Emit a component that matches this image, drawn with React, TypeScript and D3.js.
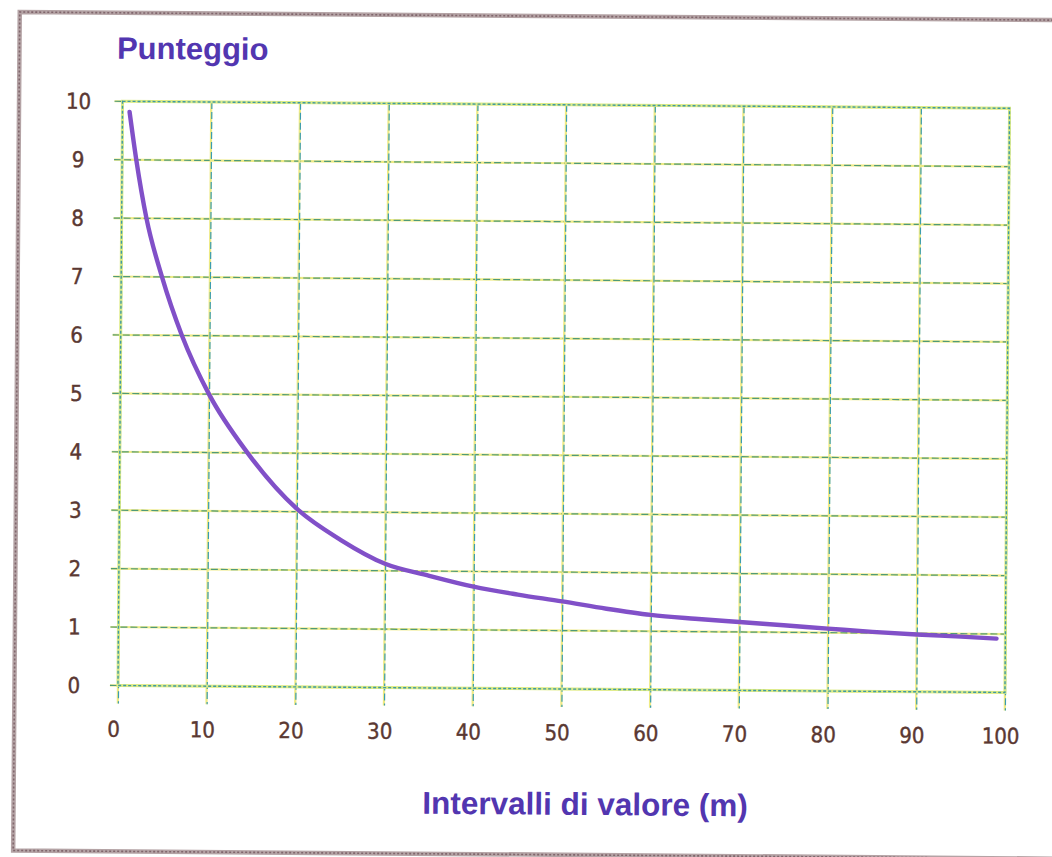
import React from "react";
import * as d3 from "d3";

// ---- data ----
const curveX = [0.8, 1.6, 2.8, 4.6, 6.9, 10, 14.4, 20, 25, 30, 35, 40, 45, 50, 55, 60, 65, 70, 75, 80, 85, 90, 95, 99];
const curveY = [9.82, 9, 8, 7, 6, 5, 4, 3.05, 2.52, 2.12, 1.92, 1.74, 1.61, 1.5, 1.38, 1.28, 1.22, 1.17, 1.12, 1.07, 1.02, 0.98, 0.95, 0.92];
const xTicks = [0, 10, 20, 30, 40, 50, 60, 70, 80, 90, 100];
const yTicks = [0, 1, 2, 3, 4, 5, 6, 7, 8, 9, 10];
const yTitle = "Punteggio";
const xTitle = "Intervalli di valore (m)";

const W = 1052;
const H = 857;

export default function App() {
  const x = d3.scaleLinear().domain([0, 100]).range([120, 1007]);
  const y = d3.scaleLinear().domain([0, 10]).range([688.7, 104.5]);

  const pts: [number, number][] = curveX.map((v, i) => [v, curveY[i]]);
  const line = d3
    .line<[number, number]>()
    .x((d) => x(d[0]))
    .y((d) => y(d[1]))
    .curve(d3.curveMonotoneX);

  const tickFont = "'Liberation Sans Narrow', 'DejaVu Sans Condensed', 'Liberation Sans', sans-serif";
  const titleFont = "'Liberation Sans', Arial, sans-serif";
  const tickColor = "#5a3832";
  const titleColor = "#5236b0";

  const frameCol = "#b4a3a5";
  const frameDash = "#80666c";

  return (
    <svg
      width={W}
      height={H}
      style={{ position: "absolute", left: 0, top: 0, background: "#ffffff" }}
    >
      <rect x={0} y={0} width={W} height={H} fill="#ffffff" />
      <g transform={`rotate(0.45, ${W / 2}, ${H / 2})`}>
        {/* outer frame */}
        <g fill="none">
          <path d={`M1070,16 L16.5,16 L16.5,854.5 L1070,854.5`} stroke={frameCol} strokeWidth={4.5} />
          <path
            d={`M1070,16 L16.5,16 L16.5,854.5 L1070,854.5`}
            stroke={frameDash}
            strokeWidth={1.6}
            strokeDasharray="2 2"
          />
        </g>

        {/* horizontal gridlines */}
        {yTicks.map((t) => (
          <g key={"h" + t}>
            <line x1={x(0) - 8} x2={x(100)} y1={y(t)} y2={y(t)} stroke="#eeea84" strokeWidth={2.2} />
            <line
              x1={x(0) - 8}
              x2={x(100)}
              y1={y(t)}
              y2={y(t)}
              stroke="#4f9a78"
              strokeWidth={1.2}
              strokeDasharray="7 3"
            />
          </g>
        ))}

        {/* vertical gridlines */}
        {xTicks.map((t) => (
          <g key={"v" + t}>
            <line x1={x(t)} x2={x(t)} y1={y(10)} y2={y(0) + 18} stroke="#eeea84" strokeWidth={2.2} />
            <line
              x1={x(t) + 0.6}
              x2={x(t) + 0.6}
              y1={y(10)}
              y2={y(0) + 18}
              stroke="#3c9cae"
              strokeWidth={1.2}
              strokeDasharray="7 3"
            />
          </g>
        ))}

        {/* plot border */}
        <rect
          x={x(0)}
          y={y(10)}
          width={x(100) - x(0)}
          height={y(0) - y(10)}
          fill="none"
          stroke="#dceb86"
          strokeWidth={3}
        />
        <rect
          x={x(0)}
          y={y(10)}
          width={x(100) - x(0)}
          height={y(0) - y(10)}
          fill="none"
          stroke="#3f9aa2"
          strokeWidth={1.4}
          strokeDasharray="3 2"
        />

        {/* curve */}
        <path d={line(pts) || ""} fill="none" stroke="#8150c8" strokeWidth={4.4} strokeLinecap="round" />

        {/* y tick labels */}
        {yTicks.map((t) => (
          <text
            key={"yl" + t}
            x={76}
            y={y(t)}
            dy="0.36em"
            textAnchor="middle"
            fontFamily={tickFont}
            fontSize={22}
            fill={tickColor}
            stroke={tickColor}
            strokeWidth={0.4}
          >
            {t}
          </text>
        ))}

        {/* x tick labels */}
        {xTicks.map((t) => (
          <text
            key={"xl" + t}
            x={x(t) - 4}
            y={740}
            textAnchor="middle"
            fontFamily={tickFont}
            fontSize={22}
            fill={tickColor}
            stroke={tickColor}
            strokeWidth={0.4}
          >
            {t}
          </text>
        ))}

        {/* titles */}
        <text x={114} y={62} fontFamily={titleFont} fontWeight="bold" fontSize={31} fill={titleColor}>
          {yTitle}
        </text>
        <text
          x={588}
          y={814.5}
          textAnchor="middle"
          fontFamily={titleFont}
          fontWeight="bold"
          fontSize={31.5}
          fill={titleColor}
        >
          {xTitle}
        </text>
      </g>
    </svg>
  );
}
